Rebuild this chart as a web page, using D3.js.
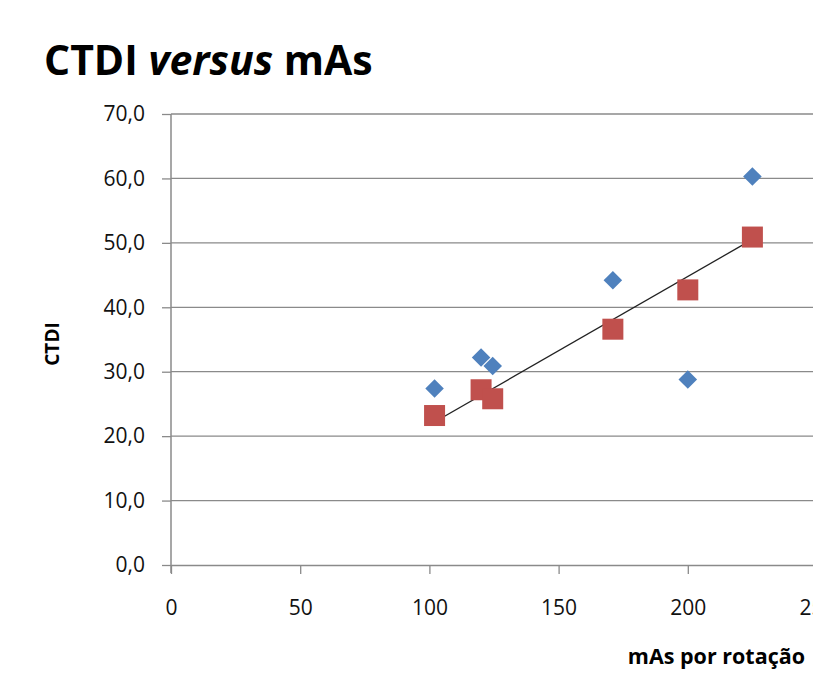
<!DOCTYPE html>
<html>
<head>
<meta charset="utf-8">
<script src="https://cdn.jsdelivr.net/npm/d3@7"></script>
<style>
  html, body { margin: 0; padding: 0; background: #fff; }
  svg { display: block; }
  text { font-family: "Open Sans", "Liberation Sans", sans-serif; }
</style>
</head>
<body>
<svg id="chart" width="813" height="674"></svg>
<script>
// mAs per rotation for each measurement
const mAs = [102, 120, 124.5, 171, 200, 225];
// CTDI series: measured (diamonds) and second series (squares)
const ctdiA = [27.4, 32.2, 30.9, 44.2, 28.8, 60.3];
const ctdiB = [23.2, 27.2, 25.8, 36.6, 42.7, 50.9];
// linear trendline: CTDI = trendSlope * mAs + trendIntercept
const trendSlope = 0.2304;
const trendIntercept = -1.3;
const xTicks = [0, 50, 100, 150, 200, 250];
const yTicks = [0, 10, 20, 30, 40, 50, 60, 70];

const svg = d3.select("#chart");
const x = d3.scaleLinear().domain([0, 250]).range([171, 817]);
const y = d3.scaleLinear().domain([0, 70]).range([565, 114]);
const fmt = v => d3.format(".1f")(v).replace(".", ",");

// horizontal gridlines
svg.append("g").selectAll("line").data(yTicks.slice(1)).join("line")
  .attr("x1", x(0)).attr("x2", 817)
  .attr("y1", d => y(d)).attr("y2", d => y(d))
  .attr("stroke", "#8a8a8a").attr("stroke-width", 1.3);

// y axis
const yAxis = svg.append("g").attr("transform", `translate(${x(0)},0)`)
  .call(d3.axisLeft(y).tickValues(yTicks).tickFormat(fmt).tickSizeInner(9).tickSizeOuter(0).tickPadding(17));
// x axis
const xAxis = svg.append("g").attr("transform", `translate(0,${y(0)})`)
  .call(d3.axisBottom(x).tickValues(xTicks).tickFormat(d3.format("d")).tickSizeInner(9).tickSizeOuter(0).tickPadding(34));
[yAxis, xAxis].forEach(g => {
  g.select(".domain").attr("stroke", "#8a8a8a").attr("stroke-width", 1.5);
  g.selectAll(".tick line").attr("stroke", "#8a8a8a").attr("stroke-width", 1.3);
  g.selectAll(".tick text").attr("fill", "#111").style("font-size", "21px")
    .style("font-family", "'Open Sans', sans-serif");
});
yAxis.select(".domain").attr("d", `M0,${y(0) + 8}V${y(70)}`);
xAxis.selectAll(".tick text").attr("dy", "0.35em");

// trendline across the measured mAs range
const xs = d3.extent(mAs);
svg.append("line")
  .attr("x1", x(xs[0])).attr("y1", y(trendIntercept + trendSlope * xs[0]))
  .attr("x2", x(xs[1])).attr("y2", y(trendIntercept + trendSlope * xs[1]))
  .attr("stroke", "#222").attr("stroke-width", 1.3);

// diamonds
svg.append("g").selectAll("path").data(mAs).join("path")
  .attr("d", d3.symbol().type(d3.symbolSquare).size(172))
  .attr("transform", (d, i) => `translate(${x(d)},${y(ctdiA[i])}) rotate(45)`)
  .attr("fill", "#4f81bd");

// squares
svg.append("g").selectAll("rect").data(mAs).join("rect")
  .attr("x", d => x(d) - 10.5).attr("y", (d, i) => y(ctdiB[i]) - 10.5)
  .attr("width", 21).attr("height", 21)
  .attr("fill", "#c0504d");

// title
const title = svg.append("text").attr("x", 44).attr("y", 75)
  .style("font-size", "41px").style("font-weight", "bold").attr("fill", "#000");
title.append("tspan").text("CTDI ");
title.append("tspan").style("font-style", "italic").text("versus");
title.append("tspan").text(" mAs");

// axis titles
svg.append("text").attr("transform", "translate(59,344) rotate(-90)")
  .attr("text-anchor", "middle").style("font-size", "19px").style("font-weight", "bold")
  .text("CTDI");
svg.append("text").attr("x", 805).attr("y", 664).attr("text-anchor", "end")
  .style("font-size", "21.5px").style("font-weight", "bold")
  .text("mAs por rotação");
</script>
</body>
</html>
